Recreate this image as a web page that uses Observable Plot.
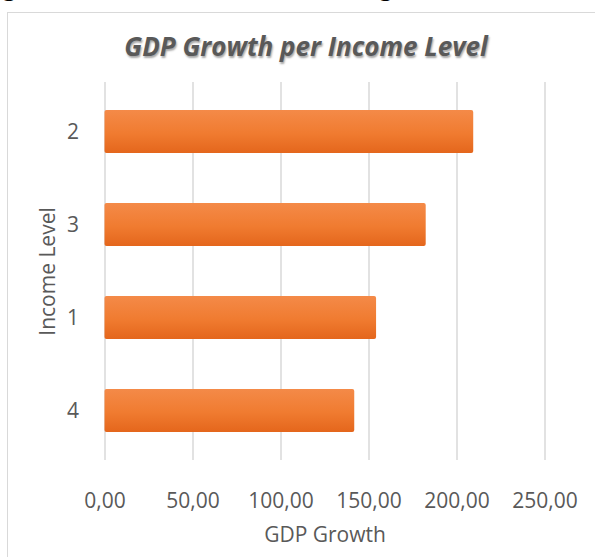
<!DOCTYPE html>
<html>
<head>
<meta charset="utf-8">
<script src="https://cdn.jsdelivr.net/npm/d3@7"></script>
<script src="https://cdn.jsdelivr.net/npm/@observablehq/plot@0.6"></script>
<style>
  html, body { margin: 0; padding: 0; background: #fff; width: 595px; height: 557px; overflow: hidden; }
  #doc { position: absolute; left: 0; top: 0; width: 595px; height: 9px; overflow: hidden; }
  #doc span { position: absolute; left: 2px; top: -30px; font-family: "Liberation Serif", serif; font-size: 28px; line-height: 32px; color: #000; white-space: nowrap; }
  #frame { position: absolute; left: 7px; top: 12px; width: 620px; height: 600px; border-left: 1px solid #d9d9d9; border-top: 1px solid #d9d9d9; }
  #title { position: absolute; left: 0; width: 612px; top: 29px; text-align: center; font-family: "Open Sans", sans-serif; font-weight: 700; font-style: italic; font-size: 26px; line-height: 34px; color: #595959; text-shadow: 1px 2px 2px rgba(0,0,0,0.35); }
  #chart { position: absolute; left: 0; top: 70px; }
</style>
</head>
<body>
<div id="doc"><span>growth rates, which shows that higher income levels</span></div>
<div id="frame"></div>
<div id="title">GDP Growth per Income Level</div>
<div id="chart"></div>
<script>
const incomeLevels = ["2", "3", "1", "4"];
const gdpGrowth = [209.5, 182.5, 154.3, 141.9];
const xTicks = [0, 50, 100, 150, 200, 250];
const xTickLabels = ["0,00", "50,00", "100,00", "150,00", "200,00", "250,00"];
const xLabel = "GDP Growth";
const yLabel = "Income Level";

const data = incomeLevels.map((level, i) => ({level, value: gdpGrowth[i]}));

const defs = () => {
  const d = d3.create("svg:defs");
  const g = d.append("linearGradient").attr("id", "barGrad").attr("x1", 0).attr("y1", 0).attr("x2", 0).attr("y2", 1);
  g.append("stop").attr("offset", "0%").attr("stop-color", "#f48a48");
  g.append("stop").attr("offset", "55%").attr("stop-color", "#f07b30");
  g.append("stop").attr("offset", "100%").attr("stop-color", "#e4661c");
  return d.node();
};

const chart = Plot.plot({
  width: 595,
  height: 487,
  marginTop: 12,
  marginBottom: 97,
  marginLeft: 104.5,
  marginRight: 50.5,
  style: { fontFamily: "Open Sans, sans-serif", fontSize: "21px", color: "#595959", background: "transparent", overflow: "visible" },
  x: { domain: [0, 250] },
  y: { domain: incomeLevels, paddingInner: 0.54, paddingOuter: 0.30 },
  marks: [
    defs,
    Plot.gridX({ ticks: xTicks, stroke: "#d9d9d9", strokeOpacity: 1, strokeWidth: 1.5 }),
    Plot.barX(data, { x: "value", y: "level", fill: "url(#barGrad)", rx: 2,
      style: { filter: "drop-shadow(1px 2px 2px rgba(60,70,110,0.45))" } }),
    Plot.axisX({ ticks: xTicks, tickFormat: (d) => xTickLabels[xTicks.indexOf(d)], tickSize: 0, tickPadding: 33, label: null, fill: "#595959" }),
    Plot.axisY({ tickSize: 0, tickPadding: 26, label: null, fill: "#595959" }),
    Plot.text([xLabel], { frameAnchor: "bottom", dy: 81, text: (d) => d, fill: "#595959", fontSize: 21 }),
    Plot.text([yLabel], { frameAnchor: "left", textAnchor: "middle", dx: -56.5, rotate: -90, text: (d) => d, fill: "#595959", fontSize: 21 })
  ]
});
document.getElementById("chart").appendChild(chart);
</script>
</body>
</html>
